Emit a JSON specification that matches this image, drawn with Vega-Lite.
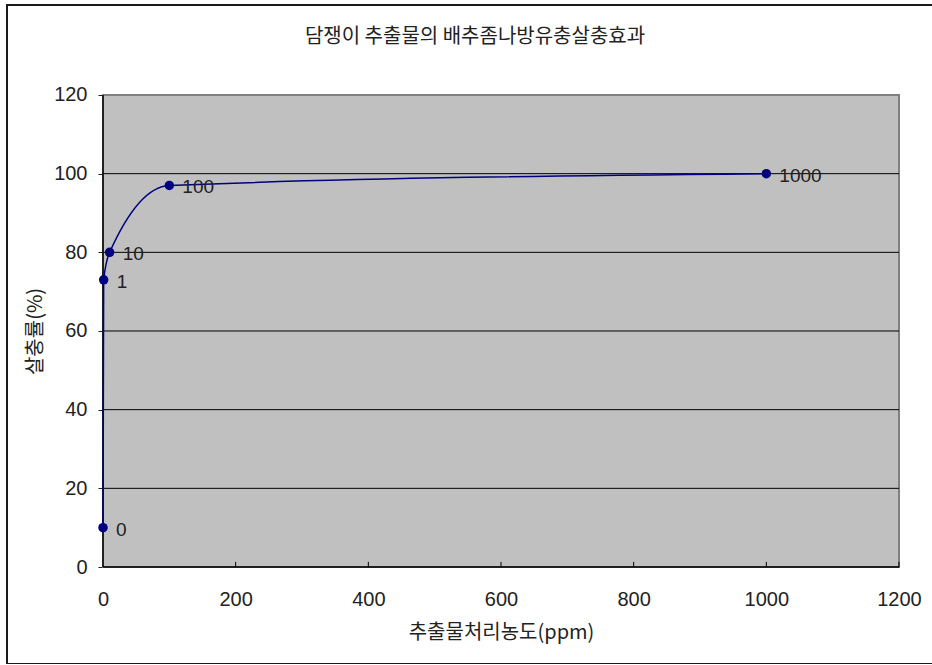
{
  "$schema": "https://vega.github.io/schema/vega-lite/v6.json",
  "width": 926,
  "height": 659,
  "autosize": {"type": "none"},
  "padding": {"left": 7, "top": 5, "right": 0, "bottom": 0},
  "background": "#ffffff",
  "config": {
    "font": "Noto Sans CJK KR",
    "view": {"stroke": "#1a1a1a", "strokeWidth": 2},
    "axis": {"labelFont": "Liberation Sans", "labelFontSize": 20, "labelColor": "#222222", "titleFont": "Noto Sans CJK KR", "titleFontSize": 20, "titleFontWeight": "normal", "titleColor": "#222222"}
  },
  "title": {
    "text": "담쟁이 추출물의 배추좀나방유충살충효과",
    "fontSize": 20,
    "fontWeight": "normal",
    "color": "#222222",
    "anchor": "middle",
    "baseline": "bottom",
    "offset": -62,
    "dx": 5
  },
  "datasets": {
    "kill": [
      {"conc": 0, "rate": 10, "label": "0"},
      {"conc": 1, "rate": 73, "label": "1"},
      {"conc": 10, "rate": 80, "label": "10"},
      {"conc": 100, "rate": 97, "label": "100"},
      {"conc": 1000, "rate": 100, "label": "1000"}
    ],
    "grid": [{"g": 20}, {"g": 40}, {"g": 60}, {"g": 80}, {"g": 100}],
    "xticks": [{"t": 200}, {"t": 400}, {"t": 600}, {"t": 800}, {"t": 1000}, {"t": 1200}]
  },
  "layer": [
    {
      "data": {"values": [{}]},
      "mark": {"type": "rect", "fill": "#c0c0c0", "stroke": "#808080", "strokeWidth": 2},
      "encoding": {
        "x": {"datum": 0, "type": "quantitative", "scale": {"domain": [-144.72, 1251.26], "nice": false, "zero": false},
          "axis": {"values": [0, 200, 400, 600, 800, 1000, 1200], "format": "d", "offset": -97, "domain": false, "ticks": false, "grid": false, "labelPadding": 22, "labelBaseline": "top",
            "title": "추출물처리농도(ppm)", "titleX": 494, "titleY": 65, "titleBaseline": "middle", "titleAnchor": "middle"}},
        "x2": {"datum": 1200},
        "y": {"datum": 0, "type": "quantitative", "scale": {"domain": [-24.66, 142.88], "nice": false, "zero": false},
          "axis": {"values": [0, 20, 40, 60, 80, 100, 120], "format": "d", "offset": -96, "domain": false, "grid": false, "tickSize": 5, "tickColor": "#222222", "labelPadding": 11,
            "title": "살충률(%)", "titleX": -68, "titleY": 326, "titleAngle": -90, "titleBaseline": "middle", "titleAnchor": "middle"}},
        "y2": {"datum": 120}
      }
    },
    {
      "data": {"name": "grid"},
      "mark": {"type": "rule", "color": "#000000", "strokeWidth": 1},
      "encoding": {
        "x": {"datum": 0, "type": "quantitative"},
        "x2": {"datum": 1200},
        "y": {"field": "g", "type": "quantitative"}
      }
    },
    {
      "data": {"name": "xticks"},
      "mark": {"type": "rule", "color": "#000000", "strokeWidth": 1},
      "encoding": {
        "x": {"field": "t", "type": "quantitative"},
        "y": {"datum": 0, "type": "quantitative"},
        "y2": {"datum": 1.3}
      }
    },
    {
      "data": {"values": [{}]},
      "mark": {"type": "rule", "color": "#000000", "strokeWidth": 1.5},
      "encoding": {
        "x": {"datum": 0, "type": "quantitative"},
        "y": {"datum": 0, "type": "quantitative"},
        "y2": {"datum": 120}
      }
    },
    {
      "data": {"values": [{}]},
      "mark": {"type": "rule", "color": "#000000", "strokeWidth": 1.5},
      "encoding": {
        "x": {"datum": 0, "type": "quantitative"},
        "x2": {"datum": 1200},
        "y": {"datum": 0, "type": "quantitative"}
      }
    },
    {
      "data": {"name": "kill"},
      "mark": {"type": "line", "color": "#000080", "strokeWidth": 1.5, "interpolate": "monotone"},
      "encoding": {
        "x": {"field": "conc", "type": "quantitative"},
        "y": {"field": "rate", "type": "quantitative"}
      }
    },
    {
      "data": {"name": "kill"},
      "mark": {"type": "point", "filled": true, "color": "#000080", "size": 90, "opacity": 1},
      "encoding": {
        "x": {"field": "conc", "type": "quantitative"},
        "y": {"field": "rate", "type": "quantitative"}
      }
    },
    {
      "data": {"name": "kill"},
      "mark": {"type": "text", "font": "Liberation Sans", "align": "left", "baseline": "middle", "dx": 13, "dy": 2, "fontSize": 19, "color": "#222222"},
      "encoding": {
        "x": {"field": "conc", "type": "quantitative"},
        "y": {"field": "rate", "type": "quantitative"},
        "text": {"field": "label"}
      }
    }
  ]
}
